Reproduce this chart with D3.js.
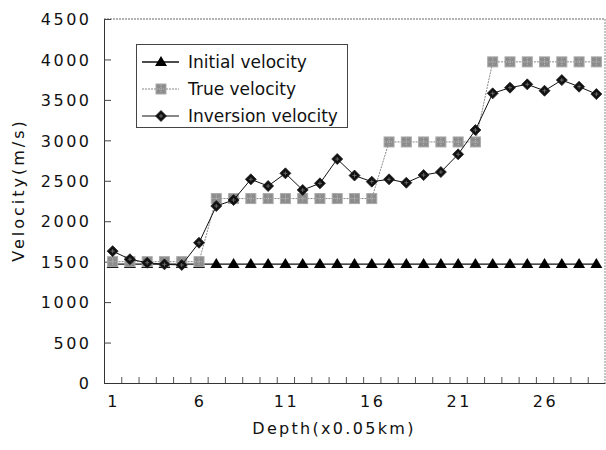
<!DOCTYPE html>
<html lang="en">
  <head>
    <meta charset='utf-8'>
    <script type="text/javascript" src="https://cdn.jsdelivr.net/npm/d3@7/dist/d3.min.js"></script>
    <title>Velocity vs depth</title>
    <style>
      body{margin:0;background:white;}
      text{font-family:"DejaVu Sans",sans-serif;fill:#111;}
    </style>
  </head>
  <body>
    <div id="chart"></div>
    <script type="text/javascript">
      //Data
      var depth=d3.range(1,30);
      var initialVel=[1470,1470,1470,1470,1470,1470,1470,1470,1470,1470,1470,1470,1470,1470,1470,
                      1470,1470,1470,1470,1470,1470,1470,1470,1470,1470,1470,1470,1470,1470];
      var trueVel=[1500,1500,1500,1500,1500,1500,2280,2280,2280,2280,2280,2280,2280,2280,2280,
                   2280,2980,2980,2980,2980,2980,2980,3970,3970,3970,3970,3970,3970,3970];
      var inversionVel=[1630,1530,1487,1467,1459,1734,2188,2262,2518,2435,2592,2386,2468,2769,2565,
                        2489,2518,2476,2571,2608,2827,3127,3581,3651,3692,3613,3745,3663,3572];
      var yTicks=[0,500,1000,1500,2000,2500,3000,3500,4000,4500];
      var xTickLabels=[1,6,11,16,21,26];
      var legendNames=["Initial velocity","True velocity","Inversion velocity"];

      var w=606,h=450;
      var plotL=104,plotR=605,plotT=19,plotB=383;

      var svg=d3.select("#chart").append("svg")
        .attr("width",w).attr("height",h);

      var x=d3.scaleLinear().domain([0.5,29.5]).range([plotL,plotR]);
      var y=d3.scaleLinear().domain([0,4500]).range([plotB,plotT]);

      //Frame: top and right are light dotted
      svg.append("line").attr("x1",plotL).attr("x2",plotR).attr("y1",plotT).attr("y2",plotT)
        .attr("stroke","#666").attr("stroke-dasharray","2,1");
      svg.append("line").attr("x1",plotR).attr("x2",plotR).attr("y1",plotT).attr("y2",plotB)
        .attr("stroke","#888").attr("stroke-dasharray","2,1");

      //Y axis
      var yAxis=d3.axisLeft(y).tickValues(yTicks).tickFormat(d3.format("d"))
        .tickSizeInner(-7).tickSizeOuter(0).tickPadding(15);
      var gy=svg.append("g").attr("transform","translate("+plotL+",0)").call(yAxis);
      gy.select(".domain").attr("stroke","#333");
      gy.selectAll(".tick line").attr("stroke","#444");
      gy.selectAll(".tick text")
        .attr("font-family","DejaVu Sans").attr("font-size",16).attr("fill","#111")
        .attr("letter-spacing","2.5px").attr("dx","2.5px").attr("dy","0.36em");

      //X axis: ticks between categories, labels every 5
      var xAxis=d3.axisBottom(x).tickValues(d3.range(1.5,29.5,1)).tickSizeInner(-6).tickSizeOuter(0).tickFormat("");
      var gx=svg.append("g").attr("transform","translate(0,"+plotB+")").call(xAxis);
      gx.select(".domain").attr("stroke","#333");
      gx.selectAll(".tick line").attr("stroke","#555");
      svg.selectAll(".xlab").data(xTickLabels).enter().append("text")
        .attr("class","xlab")
        .attr("x",function(d){return x(d)+1;})
        .attr("y",407)
        .attr("text-anchor","middle")
        .attr("font-size",16).attr("letter-spacing","2.5px")
        .text(function(d){return d;});

      //Axis titles
      svg.append("text").attr("x",334).attr("y",434).attr("text-anchor","middle")
        .attr("font-size",16).attr("letter-spacing","2.3px").text("Depth(x0.05km)");
      svg.append("text").attr("transform","translate(24,190) rotate(-90)").attr("text-anchor","middle")
        .attr("font-size",16).attr("letter-spacing","3px").text("Velocity(m/s)");

      var line=d3.line().x(function(d,i){return x(depth[i]);}).y(function(d){return y(d);});

      //Marker drawing helpers
      function drawTriangle(g,cx,cy){
        g.append("path").attr("d","M"+cx+","+(cy-6)+"L"+(cx+6)+","+(cy+4)+"L"+(cx-6)+","+(cy+4)+"Z")
          .attr("fill","#000");
      }
      function drawSquare(g,cx,cy){
        g.append("rect").attr("x",cx-5).attr("y",cy-5).attr("width",10).attr("height",10)
          .attr("fill","#8c8c8c").attr("stroke","#aaa").attr("stroke-width",1);
        g.append("path").attr("d","M"+(cx-4)+","+cy+"H"+(cx+4)+"M"+cx+","+(cy-4)+"V"+(cy+4))
          .attr("stroke","#bbb").attr("stroke-width",1).attr("stroke-dasharray","1,1");
      }
      function drawDiamond(g,cx,cy){
        g.append("path").attr("d","M"+cx+","+(cy-5.5)+"L"+(cx+5.5)+","+cy+"L"+cx+","+(cy+5.5)+"L"+(cx-5.5)+","+cy+"Z")
          .attr("fill","#111").attr("stroke","#222").attr("stroke-width",0.8);
        g.append("path").attr("d","M"+(cx-2)+","+cy+"H"+(cx+2)+"M"+cx+","+(cy-2)+"V"+(cy+2))
          .attr("stroke","#777").attr("stroke-width",0.8);
      }

      //Initial velocity
      var gInit=svg.append("g");
      gInit.append("path").datum(initialVel).attr("d",line)
        .attr("fill","none").attr("stroke","#111").attr("stroke-width",1.4);
      initialVel.forEach(function(v,i){drawTriangle(gInit,x(depth[i]),y(v));});

      //True velocity
      var gTrue=svg.append("g");
      gTrue.append("path").datum(trueVel).attr("d",line)
        .attr("fill","none").attr("stroke","#888").attr("stroke-width",1).attr("stroke-dasharray","2,1");
      trueVel.forEach(function(v,i){drawSquare(gTrue,x(depth[i]),y(v));});

      //Inversion velocity
      var gInv=svg.append("g");
      gInv.append("path").datum(inversionVel).attr("d",line)
        .attr("fill","none").attr("stroke","#111").attr("stroke-width",1);
      inversionVel.forEach(function(v,i){drawDiamond(gInv,x(depth[i]),y(v));});

      //Legend
      var lg=svg.append("g");
      lg.append("rect").attr("x",136.5).attr("y",44.5).attr("width",211).attr("height",83)
        .attr("fill","white").attr("stroke","#444").attr("stroke-width",1);
      var drawers=[drawTriangle,drawSquare,drawDiamond];
      legendNames.forEach(function(name,i){
        var cy=62+i*27;
        lg.append("line").attr("x1",142).attr("x2",179).attr("y1",cy).attr("y2",cy)
          .attr("stroke",i==1?"#888":"#111").attr("stroke-width",i==0?1.4:1)
          .attr("stroke-dasharray",i==1?"2,1":null);
        drawers[i](lg,161,cy);
        lg.append("text").attr("x",188).attr("y",cy+6).attr("font-size",17).text(name);
      });
    </script>
  </body>
</html>
